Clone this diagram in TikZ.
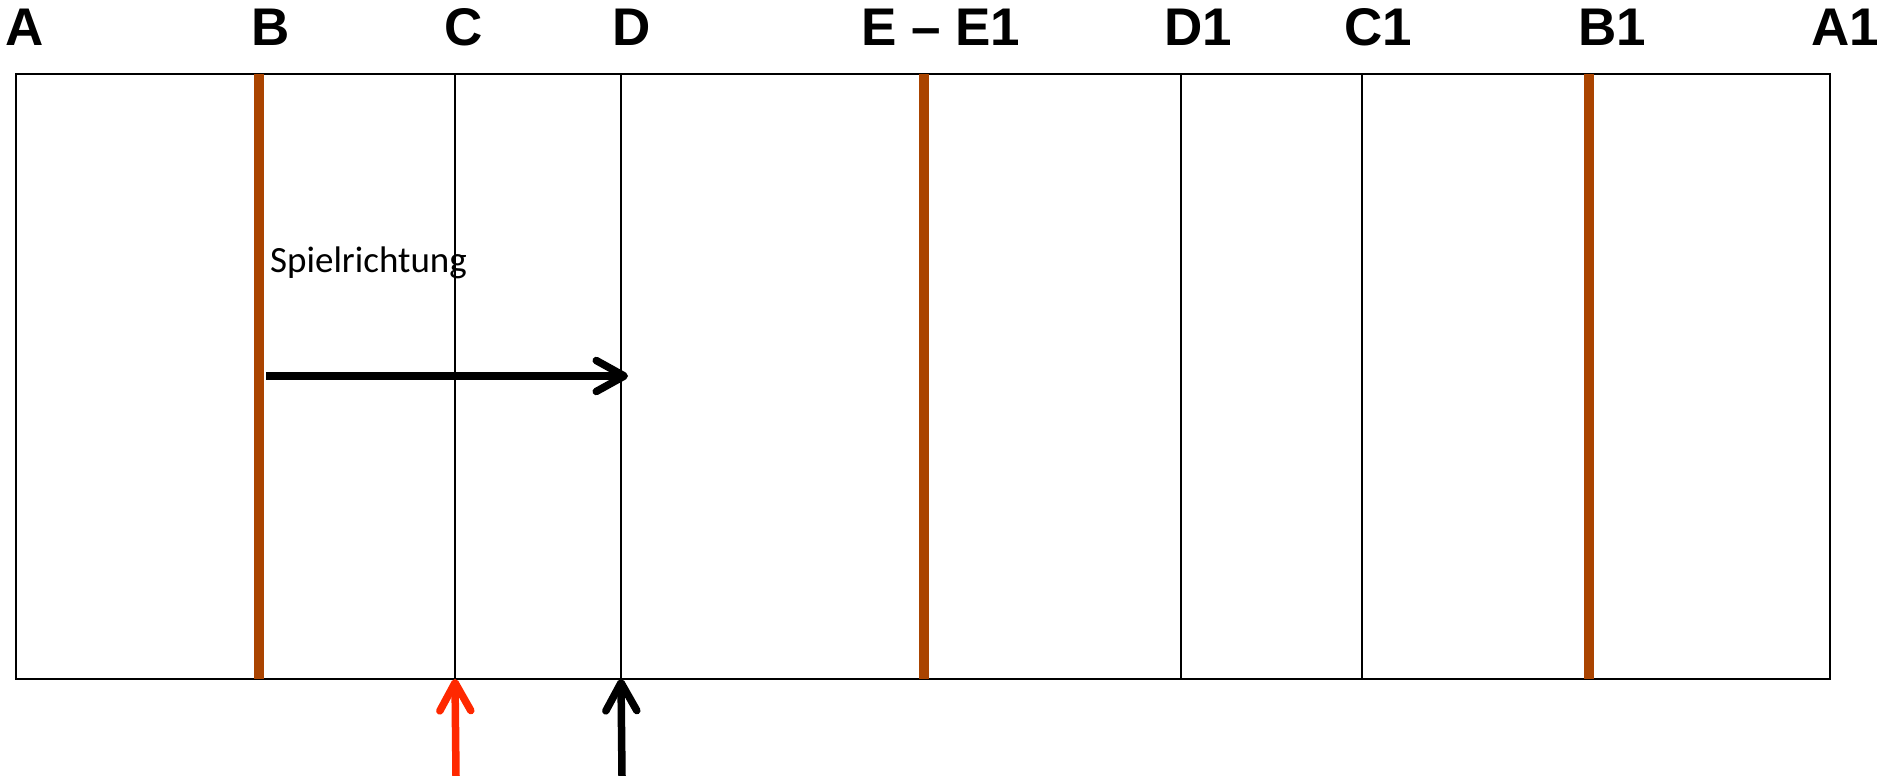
\documentclass[tikz,border=0pt]{standalone}
\usepackage{fontspec}
\setmainfont{Liberation Sans}
\newfontfamily\calib{Carlito}
\usetikzlibrary{arrows.meta}
\definecolor{linebrown}{RGB}{170,68,0}
\definecolor{arrowred}{RGB}{255,40,0}
\tikzset{
  lbl/.style={anchor=base west, inner sep=0pt, font=\fontsize{53}{60}\selectfont\bfseries},
  thinline/.style={line width=2pt, black},
  brownline/.style={line width=10pt, linebrown},
  bigarrow/.style={line width=7.5pt, -{Straight Barb[length=28pt, width=31pt, round]}}
}
\begin{document}
\begin{tikzpicture}[x=1pt, y=-1pt]
\useasboundingbox (0,0) rectangle (1883,776);
% field outline
\coordinate (tl) at (15.6,74);
\coordinate (br) at (1830,678.5);
\draw[thinline] (tl) rectangle (br);
% thin lines
\foreach \n/\x in {C/454.5, D/621, Done/1180.5, Cone/1362}{
  \coordinate (\n t) at (\x,74);
  \coordinate (\n b) at (\x,678.5);
  \draw[thinline] (\n t) -- (\n b);
}
% brown lines
\foreach \n/\x in {B/258.5, E/923.5, Bone/1589}{
  \coordinate (\n t) at (\x,74);
  \coordinate (\n b) at (\x,678.5);
  \draw[brownline] (\n t) -- (\n b);
}
% labels
\node[lbl] (lA) at (5,46) {A};
\node[lbl] (lB) at (251,46) {B};
\node[lbl] (lC) at (444,46) {C};
\node[lbl] (lD) at (612,46) {D};
\node[lbl] (lE) at (861,46) {E – E1};
\node[lbl] (lD1) at (1164,46) {D1};
\node[lbl] (lC1) at (1344,46) {C1};
\node[lbl] (lB1) at (1578,46) {B1};
\node[lbl] (lA1) at (1811,46) {A1};
% Spielrichtung
\node[anchor=base west, inner sep=0pt, font=\calib\fontsize{37}{44}\selectfont] (sp) at (270,272) {Spielrichtung};
\coordinate (as) at (266,376);
\coordinate (ae) at (628,376);
\draw[bigarrow, black] (as) -- (ae);
% bottom arrows
\coordinate (rs) at (456,776);
\coordinate (re) at (455,679);
\draw[bigarrow, arrowred] (rs) -- (re);
\coordinate (ks) at (622,776);
\coordinate (ke) at (621,679);
\draw[bigarrow, black] (ks) -- (ke);
\end{tikzpicture}
\end{document}
